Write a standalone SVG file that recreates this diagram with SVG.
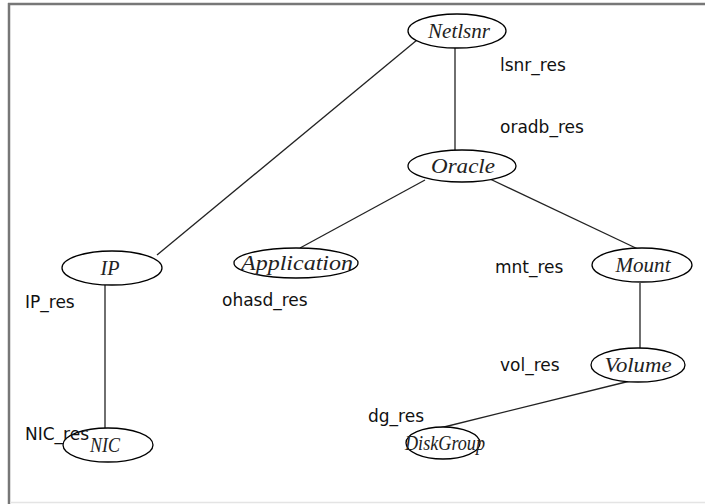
<svg xmlns="http://www.w3.org/2000/svg" width="705" height="504" viewBox="0 0 705 504">
<style>
.n ellipse{fill:#fff;stroke:#000;stroke-width:1.3}
.n text{font-family:"Liberation Serif",serif;font-style:italic;font-size:20px;text-anchor:middle;fill:#222}
.e line{stroke:#222;stroke-width:1.3}
.l{font-family:"DejaVu Sans","Liberation Sans",sans-serif;font-size:17px;fill:#111}
</style>
<rect x="0" y="0" width="705" height="504" fill="#fff"/>
<line x1="8" y1="4" x2="705" y2="4" stroke="#777" stroke-width="2.5"/>
<line x1="9" y1="3" x2="9" y2="504" stroke="#777" stroke-width="2.5"/>
<line x1="10" y1="502.5" x2="705" y2="502.5" stroke="#e4e4e4" stroke-width="1.5"/>
<g id="connectors" class="e">
<line x1="417" y1="40" x2="157" y2="255"/>
<line x1="455" y1="48" x2="455" y2="150"/>
<line x1="425" y1="180" x2="300" y2="248"/>
<line x1="490" y1="179" x2="640" y2="250"/>
<line x1="105" y1="285" x2="105" y2="428"/>
<line x1="640" y1="283" x2="640" y2="348"/>
<line x1="630" y1="381" x2="440" y2="428"/>
</g>
<g id="Netlsnr" class="n"><ellipse cx="457" cy="31" rx="49" ry="17"/><text x="459" y="38" textLength="62" lengthAdjust="spacingAndGlyphs">Netlsnr</text></g>
<g id="Oracle" class="n"><ellipse cx="462" cy="166" rx="54" ry="16"/><text x="463" y="173" textLength="64" lengthAdjust="spacingAndGlyphs">Oracle</text></g>
<g id="Application" class="n"><ellipse cx="296" cy="263" rx="62" ry="15"/><text x="297" y="270" textLength="112" lengthAdjust="spacingAndGlyphs">Application</text></g>
<g id="IP" class="n"><ellipse cx="112" cy="268" rx="50" ry="17"/><text x="110" y="275" textLength="19" lengthAdjust="spacingAndGlyphs">IP</text></g>
<g id="Mount" class="n"><ellipse cx="642" cy="265" rx="50" ry="17"/><text x="643" y="272" textLength="55" lengthAdjust="spacingAndGlyphs">Mount</text></g>
<g id="Volume" class="n"><ellipse cx="638" cy="365" rx="47" ry="17"/><text x="638" y="372" textLength="67" lengthAdjust="spacingAndGlyphs">Volume</text></g>
<g id="DiskGroup" class="n"><ellipse cx="443" cy="443" rx="37" ry="16"/><text x="445" y="450" textLength="80" lengthAdjust="spacingAndGlyphs">DiskGroup</text></g>
<g id="NIC" class="n"><ellipse cx="108" cy="445" rx="45" ry="17"/><text x="105" y="452" textLength="30" lengthAdjust="spacingAndGlyphs">NIC</text></g>
<g id="labels">
<text class="l" x="500" y="71">lsnr_res</text>
<text class="l" x="500" y="133">oradb_res</text>
<text class="l" x="222" y="306">ohasd_res</text>
<text class="l" x="25" y="308">IP_res</text>
<text class="l" x="495" y="273">mnt_res</text>
<text class="l" x="500" y="371">vol_res</text>
<text class="l" x="25" y="440">NIC_res</text>
<text class="l" x="368" y="422">dg_res</text>
</g>
</svg>
